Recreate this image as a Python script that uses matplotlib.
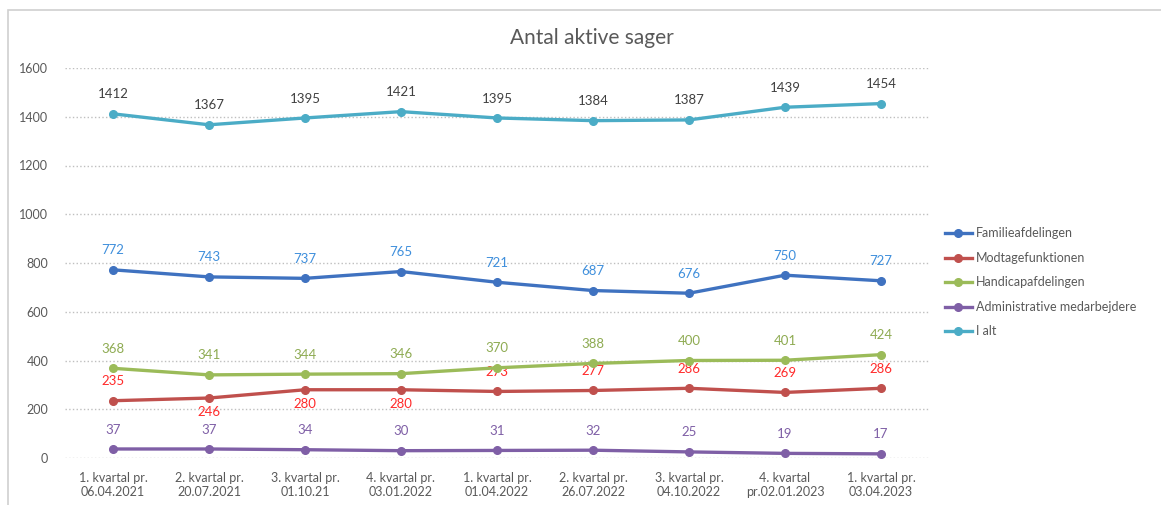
import matplotlib

matplotlib.use("Agg")
import matplotlib.pyplot as plt  # noqa: E402
import numpy as np  # noqa: E402
from matplotlib.patches import Rectangle  # noqa: E402

plt.rcParams["font.family"] = ["Lato", "DejaVu Sans"]

categories = [
    "1. kvartal pr.\n06.04.2021", "2. kvartal pr.\n20.07.2021", "3. kvartal pr.\n01.10.21",
    "4. kvartal pr.\n03.01.2022", "1. kvartal pr.\n01.04.2022", "2. kvartal pr.\n26.07.2022",
    "3. kvartal pr.\n04.10.2022", "4. kvartal\npr.02.01.2023", "1. kvartal pr.\n03.04.2023",
]
familie = [772, 743, 737, 765, 721, 687, 676, 750, 727]
modtage = [235, 246, 280, 280, 273, 277, 286, 269, 286]
handicap = [368, 341, 344, 346, 370, 388, 400, 401, 424]
admin = [37, 37, 34, 30, 31, 32, 25, 19, 17]
ialt = [1412, 1367, 1395, 1421, 1395, 1384, 1387, 1439, 1454]
series_names = ["Familieafdelingen", "Modtagefunktionen", "Handicapafdelingen",
                "Administrative medarbejdere", "I alt"]
yticks = [0, 200, 400, 600, 800, 1000, 1200, 1400, 1600]

line_colors = ["#3f72c0", "#c0504d", "#9bbb59", "#7f5fa6", "#4bacc6"]
label_colors = ["#3f8fdc", "#ff2a2a", "#8eab52", "#7f5fa6", "#404040"]
# label below the point for these (series index, point index)
below = {(1, 1), (1, 2), (1, 3)}

fig = plt.figure(figsize=(11.61, 5.05), dpi=100)
fig.patches.append(Rectangle((8 / 1161, -0.1), 1.2, 0.1 + (505 - 10) / 505,
                             transform=fig.transFigure, fill=False,
                             edgecolor="#d0d0d0", linewidth=1.2))
ax = fig.add_axes([65 / 1161, 47 / 505, 864 / 1161, 390 / 505])

x = np.arange(len(categories))
for i, (name, vals) in enumerate(zip(series_names, [familie, modtage, handicap, admin, ialt])):
    ax.plot(x, vals, "-o", color=line_colors[i], lw=2.4, ms=5.5, label=name, zorder=3)
    for j, v in enumerate(vals):
        dy = -10 if (i, j) in below else 14
        ax.annotate(str(v), (x[j], v), textcoords="offset points", xytext=(0, dy),
                    ha="center", va="center", fontsize=9.5, color=label_colors[i])

ax.set_xlim(-0.5, len(categories) - 0.5)
ax.set_ylim(0, 1600)
ax.set_yticks(yticks)
ax.set_xticks(x)
ax.set_xticklabels(categories, fontsize=9, color="#595959", linespacing=1.25)
ax.tick_params(axis="y", labelsize=9, labelcolor="#595959", length=0, pad=12)
ax.tick_params(axis="x", length=0, pad=10)
ax.grid(axis="y", color="#bfbfbf", linestyle=":", linewidth=1)
for s in ax.spines.values():
    s.set_visible(False)
ax.set_axisbelow(True)

fig.text(592 / 1161, 1 - 38 / 505, "Antal aktive sager", fontsize=15, color="#595959",
         ha="center", va="center")
ax.legend(loc="upper left", bbox_to_anchor=(1.005, 0.62), frameon=False, fontsize=9,
          labelcolor="#595959", handlelength=2.2, handletextpad=0.3, labelspacing=1.0)

fig.savefig("out.png", dpi=100)
